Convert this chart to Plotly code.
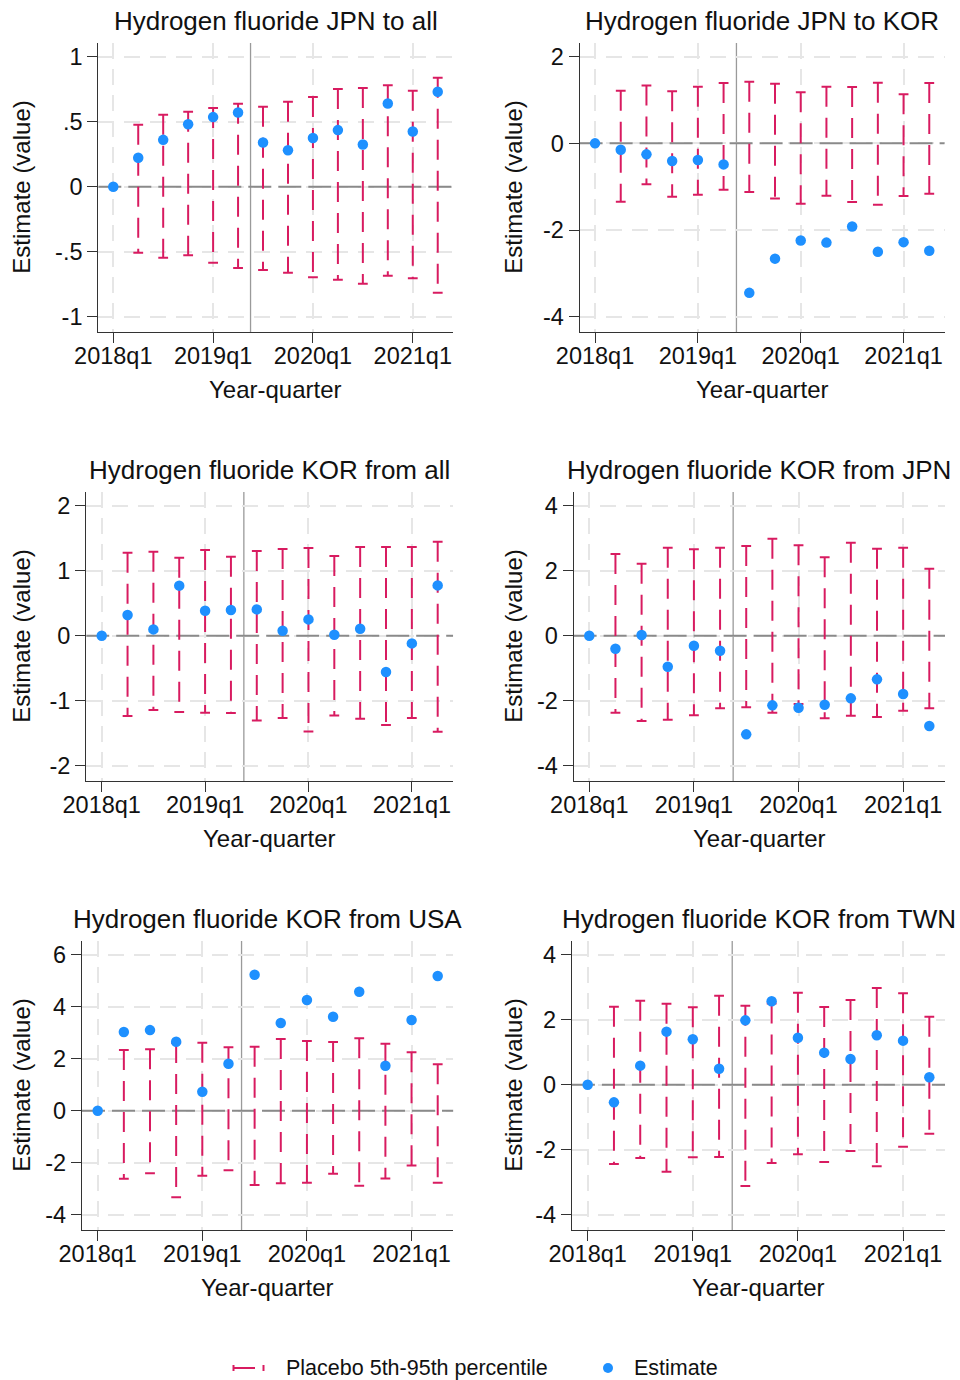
import plotly.graph_objects as go

# Quarterly event-study estimates with placebo 5th-95th percentile bands
quarters = ["2018q1", "2018q2", "2018q3", "2018q4",
            "2019q1", "2019q2", "2019q3", "2019q4",
            "2020q1", "2020q2", "2020q3", "2020q4",
            "2021q1", "2021q2"]
tick_labels = ["2018q1", "2019q1", "2020q1", "2021q1"]
event_x = 5.5  # between 2019q2 and 2019q3

titles = ["Hydrogen fluoride JPN to all", "Hydrogen fluoride JPN to KOR",
          "Hydrogen fluoride KOR from all", "Hydrogen fluoride KOR from JPN",
          "Hydrogen fluoride KOR from USA", "Hydrogen fluoride KOR from TWN"]

est_jpn_all = [0, 0.223, 0.36, 0.48, 0.535, 0.57, 0.34, 0.28, 0.375, 0.435, 0.325, 0.64, 0.425, 0.73]
hi_jpn_all = [None, 0.477, 0.554, 0.577, 0.605, 0.638, 0.615, 0.654, 0.69, 0.751, 0.759, 0.78, 0.738, 0.838]
lo_jpn_all = [None, -0.508, -0.546, -0.528, -0.585, -0.626, -0.641, -0.662, -0.697, -0.715, -0.746, -0.685, -0.705, -0.815]

est_jpn_kor = [0, -0.146, -0.254, -0.408, -0.385, -0.485, -3.45, -2.66, -2.24, -2.29, -1.92, -2.5, -2.28, -2.48]
hi_jpn_kor = [None, 1.215, 1.338, 1.2, 1.308, 1.392, 1.423, 1.377, 1.177, 1.308, 1.3, 1.4, 1.131, 1.392]
lo_jpn_kor = [None, -1.346, -0.946, -1.23, -1.185, -1.069, -1.123, -1.27, -1.392, -1.208, -1.354, -1.415, -1.215, -1.162]

est_kor_all = [0, 0.318, 0.097, 0.77, 0.385, 0.395, 0.405, 0.077, 0.251, 0.015, 0.108, -0.559, -0.118, 0.774]
hi_kor_all = [None, 1.277, 1.292, 1.2, 1.318, 1.215, 1.303, 1.333, 1.349, 1.226, 1.364, 1.364, 1.364, 1.446]
lo_kor_all = [None, -1.236, -1.144, -1.174, -1.185, -1.19, -1.303, -1.267, -1.472, -1.226, -1.277, -1.374, -1.267, -1.477]

est_kor_jpn = [0, -0.4, 0.02, -0.954, -0.308, -0.462, -3.036, -2.144, -2.215, -2.123, -1.928, -1.344, -1.795, -2.779]
hi_kor_jpn = [None, 2.513, 2.215, 2.708, 2.656, 2.708, 2.759, 2.985, 2.779, 2.41, 2.862, 2.677, 2.708, 2.062]
lo_kor_jpn = [None, -2.369, -2.626, -2.585, -2.451, -2.236, -2.205, -2.369, -2.1, -2.544, -2.462, -2.503, -2.308, -2.236]

est_kor_usa = [0, 3.026, 3.10, 2.654, 0.731, 1.808, 5.23, 3.372, 4.256, 3.615, 4.577, 1.731, 3.487, 5.18]
hi_kor_usa = [None, 2.333, 2.359, 2.6, 2.615, 2.436, 2.462, 2.756, 2.679, 2.641, 2.782, 2.577, 2.244, 1.782]
lo_kor_usa = [None, -2.615, -2.41, -3.333, -2.5, -2.295, -2.859, -2.795, -2.77, -2.423, -2.885, -2.603, -2.103, -2.77]

est_kor_twn = [0, -0.544, 0.585, 1.631, 1.395, 0.492, 1.979, 2.564, 1.446, 0.985, 0.79, 1.518, 1.354, 0.226]
hi_kor_twn = [None, 2.4, 2.585, 2.492, 2.379, 2.738, 2.431, 2.5, 2.831, 2.39, 2.605, 2.974, 2.81, 2.092]
lo_kor_twn = [None, -2.441, -2.256, -2.677, -2.236, -2.226, -3.118, -2.41, -2.144, -2.379, -2.041, -2.513, -1.908, -1.508]

estimates = [est_jpn_all, est_jpn_kor, est_kor_all, est_kor_jpn, est_kor_usa, est_kor_twn]
highs = [hi_jpn_all, hi_jpn_kor, hi_kor_all, hi_kor_jpn, hi_kor_usa, hi_kor_twn]
lows = [lo_jpn_all, lo_jpn_kor, lo_kor_all, lo_kor_jpn, lo_kor_usa, lo_kor_twn]

ytick_vals = [[-1, -0.5, 0, 0.5, 1], [-4, -2, 0, 2], [-2, -1, 0, 1, 2],
              [-4, -2, 0, 2, 4], [-4, -2, 0, 2, 4, 6], [-4, -2, 0, 2, 4]]
ytick_text = [["-1", "-.5", "0", ".5", "1"], ["-4", "-2", "0", "2"], ["-2", "-1", "0", "1", "2"],
              ["-4", "-2", "0", "2", "4"], ["-4", "-2", "0", "2", "4", "6"], ["-4", "-2", "0", "2", "4"]]
y_ranges = [[-1.12, 1.105], [-4.36, 2.316], [-2.24, 2.211],
            [-4.48, 4.42], [-4.6, 6.527], [-4.48, 4.42]]
x_range = [-0.6, 13.6]

# Plot-region placement in pixels (left, right) per panel and (top, bottom) per row
W, H = 960, 1380
panel_x = [(98.3, 452.7), (579.6, 944.7), (86.2, 453.2),
           (573.6, 945.0), (82.0, 453.4), (571.9, 945.1)]
row_y = [(43.0, 332.3), (492.0, 781.3), (941.0, 1230.3)]

FONT = "Liberation Sans, Arial, sans-serif"
BAND = "#d81b60"
DOT = "#1e90ff"
AXIS = "#333333"
GRID = "#e6e6e6"

xs = list(range(len(quarters)))
tick_pos = [quarters.index(t) for t in tick_labels]

fig = go.Figure()
annotations = []
shapes = []

for i in range(6):
    n = i + 1
    xa = "x" if n == 1 else f"x{n}"
    ya = "y" if n == 1 else f"y{n}"
    x0p, x1p = panel_x[i]
    t, b = row_y[i // 2]

    # dashed reference line at zero across the full axis range
    fig.add_trace(go.Scatter(x=x_range, y=[0, 0], mode="lines", xaxis=xa, yaxis=ya,
                             line=dict(color="#8a8a8a", width=2, dash="23px,7px"),
                             hoverinfo="skip", showlegend=False))

    # dashed placebo range, drawn top to bottom
    bx, by = [], []
    for x, hi, lo in zip(xs, highs[i], lows[i]):
        if hi is None:
            continue
        bx += [x, x, None]
        by += [hi, lo, None]
    fig.add_trace(go.Scatter(x=bx, y=by, mode="lines", xaxis=xa, yaxis=ya,
                             line=dict(color=BAND, width=2, dash="20px,11px"),
                             hoverinfo="skip", showlegend=False))
    # caps at both ends
    cx, cy = [], []
    for x, hi, lo in zip(xs, highs[i], lows[i]):
        if hi is None:
            continue
        cx += [x, x]
        cy += [hi, lo]
    fig.add_trace(go.Scatter(x=cx, y=cy, mode="markers", xaxis=xa, yaxis=ya,
                             marker=dict(symbol="line-ew", size=7,
                                         line=dict(color=BAND, width=2)),
                             hoverinfo="skip", showlegend=False))
    # point estimates
    fig.add_trace(go.Scatter(x=xs, y=estimates[i], mode="markers", xaxis=xa, yaxis=ya,
                             marker=dict(color=DOT, size=10.5, line=dict(width=0)),
                             showlegend=False))

    axis_common = dict(showline=True, linecolor=AXIS, linewidth=1.2, automargin=False,
                       ticks="outside", ticklen=10, tickwidth=1.2, tickcolor=AXIS,
                       showgrid=True, gridcolor=GRID, gridwidth=1.5, griddash="16px,10px",
                       zeroline=False, tickfont=dict(family=FONT, size=23.5, color="#111"))
    fig.update_layout(**{
        ("xaxis" if n == 1 else f"xaxis{n}"): dict(
            axis_common, domain=[x0p / W, x1p / W], anchor=ya, ticklabelstandoff=-8,
            range=x_range, tickmode="array", tickvals=tick_pos, ticktext=tick_labels),
        ("yaxis" if n == 1 else f"yaxis{n}"): dict(
            axis_common, domain=[1 - b / H, 1 - t / H], anchor=xa,
            range=y_ranges[i], tickmode="array", tickvals=ytick_vals[i], ticktext=ytick_text[i]),
    })

    # event line
    shapes.append(dict(type="line", xref=xa, yref=f"{ya} domain", x0=event_x, x1=event_x, y0=0, y1=1,
                       line=dict(color="#9a9a9a", width=1.3), layer="below"))

    cxp = (x0p + x1p) / 2
    cyp = (t + b) / 2
    annotations.append(dict(text=titles[i], xref="paper", yref="paper",
                            x=cxp / W, y=1 - (t - 22) / H, xanchor="center", yanchor="middle",
                            showarrow=False, font=dict(family=FONT, size=26, color="#111")))
    annotations.append(dict(text="Year-quarter", xref="paper", yref="paper",
                            x=cxp / W, y=1 - (b + 57) / H, xanchor="center", yanchor="middle",
                            showarrow=False, font=dict(family=FONT, size=24, color="#111")))
    ytx = 22 if i % 2 == 0 else 514
    annotations.append(dict(text="Estimate (value)", xref="paper", yref="paper",
                            x=ytx / W, y=1 - cyp / H, xanchor="center", yanchor="middle",
                            textangle=-90, showarrow=False,
                            font=dict(family=FONT, size=24, color="#111")))

# legend row
ly = 1368
shapes += [
    dict(type="line", xref="paper", yref="paper", x0=233 / W, x1=255 / W,
         y0=1 - ly / H, y1=1 - ly / H, line=dict(color=BAND, width=2)),
    dict(type="line", xref="paper", yref="paper", x0=233.5 / W, x1=233.5 / W,
         y0=1 - (ly - 3) / H, y1=1 - (ly + 3) / H, line=dict(color=BAND, width=2)),
    dict(type="line", xref="paper", yref="paper", x0=263.5 / W, x1=263.5 / W,
         y0=1 - (ly - 3) / H, y1=1 - (ly + 3) / H, line=dict(color=BAND, width=2)),
    dict(type="circle", xref="paper", yref="paper", x0=603 / W, x1=613 / W,
         y0=1 - (ly + 5) / H, y1=1 - (ly - 5) / H, fillcolor=DOT, line=dict(width=0)),
]
annotations.append(dict(text="Placebo 5th-95th percentile", xref="paper", yref="paper",
                        x=284 / W, y=1 - ly / H, xanchor="left", yanchor="middle",
                        showarrow=False, font=dict(family=FONT, size=21.5, color="#111")))
annotations.append(dict(text="Estimate", xref="paper", yref="paper",
                        x=632 / W, y=1 - ly / H, xanchor="left", yanchor="middle",
                        showarrow=False, font=dict(family=FONT, size=21.5, color="#111")))

fig.update_layout(width=W, height=H, margin=dict(l=0, r=0, t=0, b=0, autoexpand=False),
                  paper_bgcolor="white", plot_bgcolor="white",
                  showlegend=False, shapes=shapes, annotations=annotations,
                  font=dict(family=FONT))

fig.write_html("out.html")
